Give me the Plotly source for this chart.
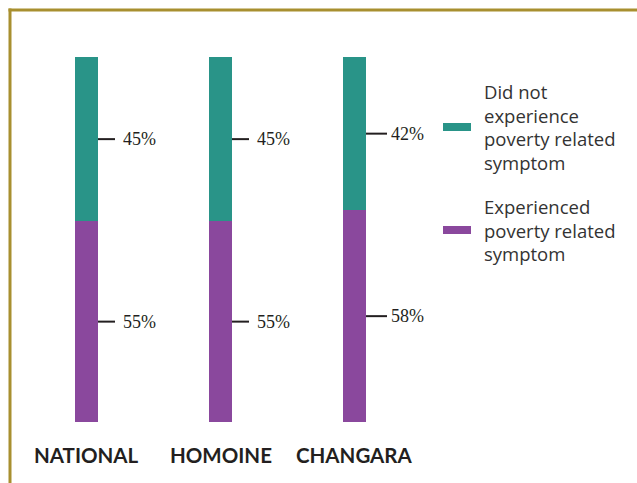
import plotly.graph_objects as go

# Share of respondents by poverty-related symptom
categories = ["NATIONAL", "HOMOINE", "CHANGARA"]
experienced = [55, 55, 58]
did_not_experience = [45, 45, 42]
series_names = [["Did not", "experience", "poverty related", "symptom"],
                ["Experienced", "poverty related", "symptom"]]

TEAL = "#299488"
PURPLE = "#8A489D"
GOLD = "#A88F2F"
INK = "#231F20"

W, H = 637, 483
SLOT = 134.0           # pixels between bar centres
BAR_PX = 23.0
x0_px = 86.5           # centre of the first bar
top_px, bot_px = 57.0, 422.0
ppu = (bot_px - top_px) / 100.0

x_range = [-x0_px / SLOT, (W - x0_px) / SLOT]
y_range = [-(H - bot_px) / ppu, 100 + top_px / ppu]
bar_w = BAR_PX / SLOT

xs = list(range(len(categories)))

fig = go.Figure()
fig.add_trace(go.Bar(x=xs, y=experienced, width=bar_w, marker_color=PURPLE,
                     marker_line_width=0, name="Experienced", showlegend=False,
                     hoverinfo="skip"))
fig.add_trace(go.Bar(x=xs, y=did_not_experience, width=bar_w, marker_color=TEAL,
                     marker_line_width=0, name="Did not experience",
                     showlegend=False, hoverinfo="skip"))

shapes = []
annotations = []

# leader line length and gap before the label, in pixels
leader = [17, 17, 21]
gap = [6, 6, 2]

for i, (e, d) in enumerate(zip(experienced, did_not_experience)):
    xr = i + bar_w / 2
    xe = xr + leader[i] / SLOT
    xt = xe + gap[i] / SLOT
    for yc, val in ((e / 2, e), (e + d / 2, d)):
        shapes.append(dict(type="line", xref="x", yref="y", x0=xr, x1=xe,
                           y0=yc, y1=yc, line=dict(color=INK, width=2)))
        annotations.append(dict(x=xt, y=yc, xref="x", yref="y", text=f"{val}%",
                                showarrow=False, xanchor="left", yanchor="middle",
                                font=dict(family="Liberation Serif", size=18, color=INK)))
    annotations.append(dict(x=i, y=-(455 - bot_px) / ppu, xref="x", yref="y",
                            text=f"<b>{categories[i]}</b>", showarrow=False,
                            xanchor="center", yanchor="middle",
                            font=dict(family="Lato", size=20.5, color=INK)))

# legend drawn by hand: swatch bar + wrapped label, one line per annotation
LINE = 23.7
for colour, lines, yc in ((TEAL, series_names[0], 127), (PURPLE, series_names[1], 230)):
    shapes.append(dict(type="rect", xref="paper", yref="paper",
                       x0=443 / W, x1=471 / W, y0=1 - (yc - 4) / H, y1=1 - (yc + 4) / H,
                       fillcolor=colour, line=dict(width=0)))
    n = len(lines)
    for k, txt in enumerate(lines):
        ly = yc + (k - (n - 1) / 2) * LINE
        annotations.append(dict(x=482 / W, y=1 - ly / H, xref="paper", yref="paper",
                                text=txt, showarrow=False, xanchor="left",
                                yanchor="middle", align="left",
                                font=dict(family="Open Sans", size=18.5, color="#333333")))

# frame: left and top rules
shapes.append(dict(type="line", xref="paper", yref="paper", x0=10 / W, x1=10 / W,
                   y0=0, y1=1 - 8.5 / H, line=dict(color=GOLD, width=3)))
shapes.append(dict(type="line", xref="paper", yref="paper", x0=8.5 / W, x1=1,
                   y0=1 - 10 / H, y1=1 - 10 / H, line=dict(color=GOLD, width=3)))

fig.update_layout(
    width=W, height=H, barmode="stack", bargap=0,
    margin=dict(l=0, r=0, t=0, b=0),
    paper_bgcolor="white", plot_bgcolor="white",
    xaxis=dict(range=x_range, visible=False, fixedrange=True),
    yaxis=dict(range=y_range, visible=False, fixedrange=True),
    shapes=shapes, annotations=annotations,
)

fig.write_html("out.html")
